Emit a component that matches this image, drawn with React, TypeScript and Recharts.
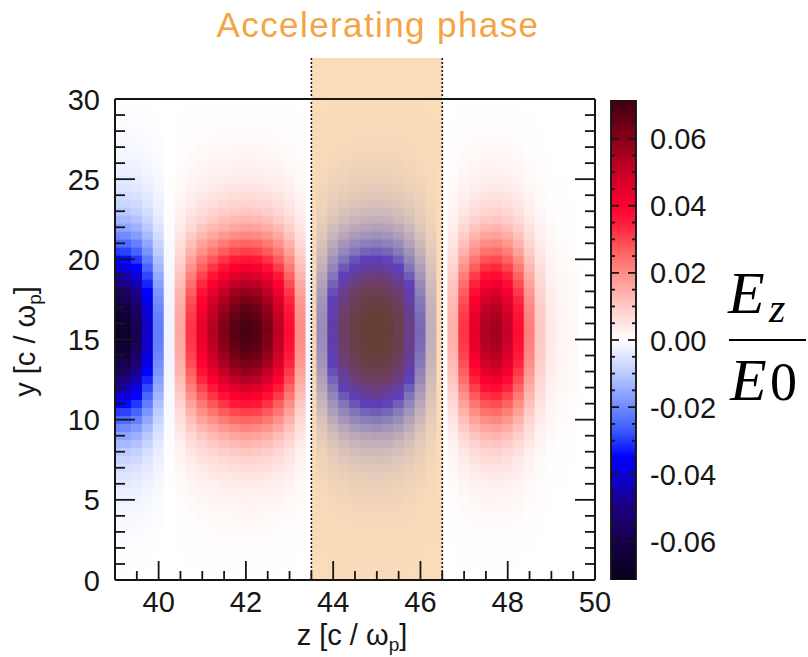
import React from 'react'
import {
  ComposedChart, BarChart, Bar, Scatter, XAxis, YAxis, ReferenceArea, ReferenceLine, Label,
} from 'recharts'

// z positions of the sampled columns [c / ωp]
const zCols = [
  39, 39.25, 39.5, 39.75, 40, 40.25, 40.5, 40.75, 41, 41.25, 41.5, 41.75,
  42, 42.25, 42.5, 42.75, 43, 43.25, 43.5, 43.75, 44, 44.25, 44.5, 44.75,
  45, 45.25, 45.5, 45.75, 46, 46.25, 46.5, 46.75, 47, 47.25, 47.5, 47.75,
  48, 48.25, 48.5, 48.75, 49, 49.25, 49.5, 49.75, 50,
]
// Ez/E0 read along the axis (y ~ 15.5)
const ezOnAxis = [
  -0.068, -0.066, -0.058, -0.042, -0.022, -0.002, 0.016, 0.032, 0.044, 0.053, 0.061, 0.067,
  0.07, 0.068, 0.062, 0.052, 0.038, 0.02, -0.002, -0.022, -0.039, -0.052, -0.061, -0.067,
  -0.069, -0.066, -0.058, -0.045, -0.029, -0.013, 0.0, 0.014, 0.032, 0.045, 0.054, 0.056,
  0.05, 0.038, 0.022, 0.01, 0.004, 0.002, 0.001, 0.0, 0.0,
]
// y positions of the sampled rows [c / ωp]
const yRows = [
  0, 0.5, 1, 1.5, 2, 2.5, 3, 3.5, 4, 4.5, 5, 5.5, 6, 6.5, 7, 7.5, 8, 8.5, 9, 9.5,
  10, 10.5, 11, 11.5, 12, 12.5, 13, 13.5, 14, 14.5, 15, 15.5, 16, 16.5, 17, 17.5,
  18, 18.5, 19, 19.5, 20, 20.5, 21, 21.5, 22, 22.5, 23, 23.5, 24, 24.5, 25, 25.5,
  26, 26.5, 27, 27.5, 28, 28.5, 29, 29.5, 30,
]
// transverse envelope, relative to the on-axis value
const envelope = [
  0.001, 0.002, 0.003, 0.004, 0.006, 0.008, 0.011, 0.015, 0.02, 0.027, 0.035, 0.045,
  0.058, 0.075, 0.095, 0.12, 0.15, 0.19, 0.24, 0.3, 0.37, 0.44, 0.52, 0.6, 0.68, 0.76,
  0.83, 0.89, 0.935, 0.97, 0.99, 1.0, 0.99, 0.97, 0.935, 0.89, 0.83, 0.76, 0.68, 0.6,
  0.52, 0.44, 0.37, 0.3, 0.24, 0.19, 0.15, 0.12, 0.095, 0.075, 0.058, 0.045, 0.035,
  0.027, 0.02, 0.015, 0.011, 0.008, 0.006, 0.004, 0.003,
]

const xTicks = [39.5, 40, 40.5, 41, 41.5, 42, 42.5, 43, 43.5, 44, 44.5, 45, 45.5, 46, 46.5, 47, 47.5, 48, 48.5, 49, 49.5, 50]
const xLabels = [40, 42, 44, 46, 48, 50]
const yTicks = [0, 1, 2, 3, 4, 5, 6, 7, 8, 9, 10, 11, 12, 13, 14, 15, 16, 17, 18, 19, 20, 21, 22, 23, 24, 25, 26, 27, 28, 29, 30]
const yLabels = [0, 5, 10, 15, 20, 25, 30]
const cbTicks = [
  -0.065, -0.06, -0.055, -0.05, -0.045, -0.04, -0.035, -0.03, -0.025, -0.02, -0.015, -0.01, -0.005,
  0, 0.005, 0.01, 0.015, 0.02, 0.025, 0.03, 0.035, 0.04, 0.045, 0.05, 0.055, 0.06, 0.065,
]
const cbLabels = [-0.06, -0.04, -0.02, 0, 0.02, 0.04, 0.06]
const phaseBand = [43.5, 46.5]

const CB_MIN = -0.0715
const CB_MAX = 0.0715
const colorBar = [{ name: 'Ez/E0', range: [CB_MIN, CB_MAX] }]

const heat: { z: number; y: number; v: number }[] = []
zCols.forEach((z, i) => {
  yRows.forEach((y, j) => heat.push({ z, y, v: ezOnAxis[i] * envelope[j] }))
})

const SANS = '"Liberation Sans", Arial, Helvetica, sans-serif'
const SERIF = '"Liberation Serif", "DejaVu Serif", serif'
const INK = '#161616'

// blue - white - red colour table
const cmap: [number, string][] = [
  [-0.0715, '#07001a'],
  [-0.06, '#160048'],
  [-0.05, '#1c0080'],
  [-0.042, '#1000c8'],
  [-0.035, '#0000ff'],
  [-0.027, '#3a5aff'],
  [-0.018, '#7f98ff'],
  [-0.009, '#c2d0ff'],
  [0, '#ffffff'],
  [0.009, '#ffd0cc'],
  [0.018, '#ff9a92'],
  [0.027, '#ff5c5c'],
  [0.035, '#ff1a38'],
  [0.04, '#ff0030'],
  [0.05, '#c80026'],
  [0.06, '#880018'],
  [0.0715, '#3c0010'],
]

const rgb = (c: string) => [1, 3, 5].map(k => parseInt(c.slice(k, k + 2), 16))

function colorFor(v: number) {
  if (v <= cmap[0][0]) return cmap[0][1]
  for (let i = 1; i < cmap.length; i++) {
    if (v <= cmap[i][0]) {
      const t = (v - cmap[i - 1][0]) / (cmap[i][0] - cmap[i - 1][0])
      const a = rgb(cmap[i - 1][1])
      const b = rgb(cmap[i][1])
      return `rgb(${a.map((c, k) => Math.round(c + (b[k] - c) * t)).join(',')})`
    }
  }
  return cmap[cmap.length - 1][1]
}

// plot frame in page pixels
const PLOT = { left: 115, top: 99, right: 595, bottom: 580 }
const AX = 30 // room given to each axis
const cellW = ((PLOT.right - PLOT.left) / 11) * 0.25 + 0.7
const cellH = ((PLOT.bottom - PLOT.top) / 30) * 0.5 + 0.7

const HeatCell = (props: any) => {
  const { cx, cy, payload } = props
  return <rect x={cx - cellW / 2} y={cy - cellH / 2} width={cellW} height={cellH} fill={colorFor(payload.v)} />
}

const BottomTick = ({ x, y, payload }: any) => {
  const major = xLabels.includes(payload.value)
  return (
    <g>
      <line x1={x} x2={x} y1={y} y2={y - (major ? 19 : 9)} stroke={INK} strokeWidth={1.8} />
      {major && (
        <text x={x} y={y + 32} textAnchor="middle" fontSize={29} fontFamily={SANS} fill={INK}>
          {payload.value}
        </text>
      )}
    </g>
  )
}

const TopTick = ({ x, y, payload }: any) => {
  const major = xLabels.includes(payload.value)
  return <line x1={x} x2={x} y1={y} y2={y + (major ? 19 : 9)} stroke={INK} strokeWidth={1.8} />
}

const LeftTick = ({ x, y, payload }: any) => {
  const major = yLabels.includes(payload.value)
  return (
    <g>
      <line x1={x} x2={x + (major ? 20 : 10)} y1={y} y2={y} stroke={INK} strokeWidth={1.8} />
      {major && (
        <text x={x - 15} y={y + 10.5} textAnchor="end" fontSize={29} fontFamily={SANS} fill={INK}>
          {payload.value}
        </text>
      )}
    </g>
  )
}

const RightTick = ({ x, y, payload }: any) => {
  const major = yLabels.includes(payload.value)
  return <line x1={x} x2={x - (major ? 20 : 10)} y1={y} y2={y} stroke={INK} strokeWidth={1.8} />
}

const CbLeftTick = ({ x, y, payload }: any) => {
  const major = cbLabels.includes(payload.value)
  return <line x1={x} x2={x + (major ? 8 : 4)} y1={y} y2={y} stroke={INK} strokeWidth={1.8} />
}

const CbRightTick = ({ x, y, payload }: any) => {
  const major = cbLabels.includes(payload.value)
  return (
    <g>
      <line x1={x} x2={x - (major ? 8 : 4)} y1={y} y2={y} stroke={INK} strokeWidth={1.8} />
      {major && (
        <text x={x + 14} y={y + 10.5} textAnchor="start" fontSize={29} fontFamily={SANS} fill={INK}>
          {payload.value.toFixed(2)}
        </text>
      )}
    </g>
  )
}

const axisLine = { stroke: INK, strokeWidth: 2 }
const layer = (left: number, top = 0) => ({ position: 'absolute' as const, left, top })

export default function App() {
  return (
    <div style={{ position: 'absolute', left: 0, top: 0, width: 808, height: 657, background: '#fff' }}>
      <div style={layer(0)}>
        <ComposedChart
          width={808}
          height={657}
          margin={{
            top: PLOT.top - AX,
            right: 808 - PLOT.right - AX,
            bottom: 657 - PLOT.bottom - AX,
            left: PLOT.left - AX,
          }}
        >
          <Scatter data={heat} dataKey="y" shape={HeatCell} isAnimationActive={false} zIndex={-300} />
          <ReferenceArea
            x1={phaseBand[0]}
            x2={phaseBand[1]}
            y1={0}
            y2={32.55}
            ifOverflow="visible"
            fill="#F5A346"
            fillOpacity={0.38}
            stroke="none"
            zIndex={-200}
          />
          {phaseBand.map(b => (
            <ReferenceLine
              key={b}
              segment={[{ x: b, y: 0 }, { x: b, y: 32.55 }]}
              ifOverflow="visible"
              stroke={INK}
              strokeWidth={1.6}
              strokeDasharray="2 2"
              zIndex={-150}
            />
          ))}
          <XAxis
            dataKey="z"
            type="number"
            domain={[39, 50]}
            allowDataOverflow
            ticks={xTicks}
            interval={0}
            height={AX}
            tickSize={0}
            tickMargin={0}
            tickLine={false}
            tick={BottomTick}
            axisLine={axisLine}
            zIndex={900}
          >
            <Label
              content={({ viewBox }: any) => (
                <text x={viewBox.x + viewBox.width / 2 - 3} y={viewBox.y + 65} textAnchor="middle" fontSize={29} fontFamily={SANS} fill={INK}>
                  z [c / ω<tspan fontSize={19} dy={6}>p</tspan><tspan dy={-6}>]</tspan>
                </text>
              )}
            />
          </XAxis>
          <XAxis
            xAxisId="top"
            orientation="top"
            type="number"
            domain={[39, 50]}
            allowDataOverflow
            ticks={xTicks}
            interval={0}
            height={AX}
            tickSize={0}
            tickMargin={0}
            tickLine={false}
            tick={TopTick}
            axisLine={axisLine}
            zIndex={900}
          />
          <YAxis
            dataKey="y"
            type="number"
            domain={[0, 30]}
            allowDataOverflow
            ticks={yTicks}
            interval={0}
            width={AX}
            tickSize={0}
            tickMargin={0}
            tickLine={false}
            tick={LeftTick}
            axisLine={axisLine}
            zIndex={900}
          >
            <Label
              content={({ viewBox }: any) => {
                const cx = PLOT.left - 80
                const cy = viewBox.y + viewBox.height / 2 + 2
                return (
                  <text x={cx} y={cy} transform={`rotate(-90, ${cx}, ${cy})`} textAnchor="middle" fontSize={29} fontFamily={SANS} fill={INK}>
                    y [c / ω<tspan fontSize={19} dy={6}>p</tspan><tspan dy={-6}>]</tspan>
                  </text>
                )
              }}
            />
          </YAxis>
          <YAxis
            yAxisId="right"
            orientation="right"
            type="number"
            domain={[0, 30]}
            allowDataOverflow
            ticks={yTicks}
            interval={0}
            width={AX}
            tickSize={0}
            tickMargin={0}
            tickLine={false}
            tick={RightTick}
            axisLine={axisLine}
            zIndex={900}
          />
        </ComposedChart>
      </div>

      {/* colour scale */}
      <div style={layer(596)}>
        <BarChart width={212} height={657} data={colorBar} margin={{ top: 100, right: 162, bottom: 77, left: 5 }} barCategoryGap={0}>
          <defs>
            <linearGradient id="ezScale" x1="0" y1="0" x2="0" y2="1">
              {[...cmap].reverse().map(([v, c]) => (
                <stop key={v} offset={(CB_MAX - v) / (CB_MAX - CB_MIN)} stopColor={c} />
              ))}
            </linearGradient>
          </defs>
          <Bar dataKey="range" fill="url(#ezScale)" stroke={INK} strokeWidth={1.5} isAnimationActive={false} zIndex={-300} />
          <XAxis dataKey="name" hide />
          <YAxis
            type="number"
            domain={[CB_MIN, CB_MAX]}
            allowDataOverflow
            ticks={cbTicks}
            interval={0}
            width={10}
            tickSize={0}
            tickMargin={0}
            tickLine={false}
            tick={CbLeftTick}
            axisLine={{ stroke: INK, strokeWidth: 1.5 }}
            zIndex={900}
          />
          <YAxis
            yAxisId="r"
            orientation="right"
            type="number"
            domain={[CB_MIN, CB_MAX]}
            allowDataOverflow
            ticks={cbTicks}
            interval={0}
            width={10}
            tickSize={0}
            tickMargin={0}
            tickLine={false}
            tick={CbRightTick}
            axisLine={{ stroke: INK, strokeWidth: 1.5 }}
            zIndex={900}
          />
        </BarChart>
      </div>

      <svg width={808} height={657} style={{ position: 'absolute', left: 0, top: 0, pointerEvents: 'none' }}>
        <text x={378} y={37} textAnchor="middle" fontSize={35} letterSpacing={1.4} fontFamily={SANS} fill="#F5A444">
          Accelerating phase
        </text>
        <text x={728} y={313} fontSize={60} fontStyle="italic" fontFamily={SERIF} fill="#000">E</text>
        <text x={769} y={322} fontSize={42} fontStyle="italic" fontFamily={SERIF} fill="#000">z</text>
        <line x1={729} x2={806} y1={340} y2={340} stroke="#000" strokeWidth={2} />
        <text x={730} y={400} fontSize={60} fontStyle="italic" fontFamily={SERIF} fill="#000">E</text>
        <text x={770} y={400} fontSize={54} fontFamily={SERIF} fill="#000">0</text>
      </svg>
    </div>
  )
}
